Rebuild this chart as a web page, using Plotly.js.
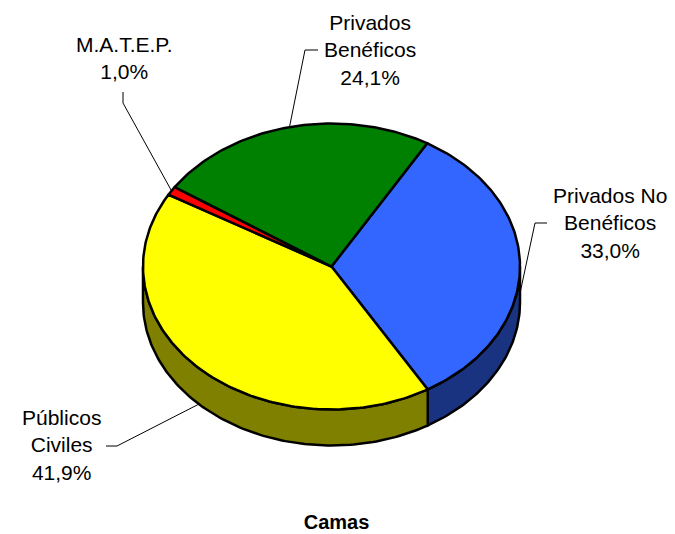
<!DOCTYPE html>
<html>
<head>
<meta charset="utf-8">
<script src="https://cdn.plot.ly/plotly-3.0.1.min.js"></script>
<style>html,body{margin:0;padding:0;background:#fff;}#chart{width:675px;height:534px;}</style>
</head>
<body>
<div id="chart"></div>
<script>
// ---- data ----
const categories = ['Privados No Benéficos', 'Públicos Civiles', 'M.A.T.E.P.', 'Privados Benéficos'];
const labelLines = ['Privados No<br>Benéficos', 'Públicos<br>Civiles', 'M.A.T.E.P.', 'Privados<br>Benéficos'];
const values = [33.0, 41.9, 1.0, 24.1];
const topColors = ['#3366FF', '#FFFF00', '#FF0000', '#008000'];
const sideColors = ['#1A3380', '#808000', '#800000', '#004000'];
const chartTitle = 'Camas';

// ---- geometry / style (pixel space) ----
const G = {cx: 331.5, cy: 266.5, rx: 188.5, ry: 143, depth: 36, start: 59.5};
const labelLayout = [
  {x: 609.5, y: 223, elbow: [[547, 223], [535, 223]], depthFrac: 0.75},
  {x: 61.5, y: 445, elbow: [[106, 446], [117, 446]], depthFrac: 1.0},
  {x: 123.5, y: 58, elbow: [[123, 92], [123, 103]], depthFrac: 0},
  {x: 370, y: 50, elbow: [[318, 50], [305, 50]], depthFrac: 0}
];
const FONT = 'Liberation Sans, Arial, sans-serif';

const rad = d => d * Math.PI / 180;
const px = a => G.cx + G.rx * Math.cos(rad(a));
const py = (a, dz) => G.cy - G.ry * Math.sin(rad(a)) + (dz || 0);

function arc(a1, a2, dz) {
  const n = Math.max(2, Math.ceil(Math.abs(a2 - a1) / 1));
  const xs = [], ys = [];
  for (let i = 0; i <= n; i++) {
    const a = a1 + (a2 - a1) * i / n;
    xs.push(px(a)); ys.push(py(a, dz));
  }
  return [xs, ys];
}

const total = values.reduce((s, v) => s + v, 0);
const slices = [];
let ang = G.start;
values.forEach((v, i) => {
  const span = v / total * 360;
  slices.push({i, a1: ang, a2: ang - span, mid: ang - span / 2});
  ang -= span;
});

const traces = [];
// sides (front half: angles in [-180, 0])
slices.forEach(s => {
  for (let k = -1; k <= 1; k++) {
    const hi = Math.min(s.a1 + 360 * k, 0);
    const lo = Math.max(s.a2 + 360 * k, -180);
    if (hi > lo) {
      const [tx, ty] = arc(hi, lo, 0);
      const [bx, by] = arc(lo, hi, G.depth);
      traces.push({
        type: 'scatter', mode: 'lines', fill: 'toself',
        x: tx.concat(bx, [tx[0]]), y: ty.concat(by, [ty[0]]),
        fillcolor: sideColors[s.i], line: {color: '#000', width: 2.5},
        hoverinfo: 'skip', showlegend: false
      });
    }
  }
});
// tops
slices.forEach(s => {
  const [ax, ay] = arc(s.a1, s.a2, 0);
  traces.push({
    type: 'scatter', mode: 'lines', fill: 'toself',
    x: [G.cx].concat(ax, [G.cx]), y: [G.cy].concat(ay, [G.cy]),
    fillcolor: topColors[s.i], line: {color: '#000', width: 2.5},
    name: categories[s.i], hoverinfo: 'name', showlegend: false
  });
});

// labels + leader lines
const annotations = [];
const shapes = [];
slices.forEach(s => {
  const L = labelLayout[s.i];
  const pct = values[s.i].toFixed(1).replace('.', ',') + '%';
  annotations.push({
    x: L.x, y: L.y, xref: 'x', yref: 'y', xanchor: 'center', yanchor: 'middle',
    text: labelLines[s.i] + '<br>' + pct, showarrow: false,
    font: {family: FONT, size: 21, color: '#000'}
  });
  const ex = px(s.mid), ey = py(s.mid, L.depthFrac * G.depth);
  const e = L.elbow;
  shapes.push({
    type: 'path', xref: 'x', yref: 'y',
    path: `M${e[0][0]},${e[0][1]} L${e[1][0]},${e[1][1]} L${ex},${ey}`,
    line: {color: '#000', width: 1}
  });
});

const layout = {
  width: 675, height: 534,
  margin: {l: 0, r: 0, t: 0, b: 0},
  paper_bgcolor: '#fff', plot_bgcolor: '#fff',
  xaxis: {range: [0, 675], visible: false, fixedrange: true},
  yaxis: {range: [534, 0], visible: false, fixedrange: true},
  title: {
    text: '<b>' + chartTitle + '</b>', x: 336.5 / 675, xanchor: 'center',
    y: 1 - 522 / 534, yanchor: 'middle', yref: 'container',
    font: {family: FONT, size: 20, color: '#000'}
  },
  annotations, shapes, showlegend: false
};

Plotly.newPlot('chart', traces, layout, {displayModeBar: false, staticPlot: true});
</script>
</body>
</html>
